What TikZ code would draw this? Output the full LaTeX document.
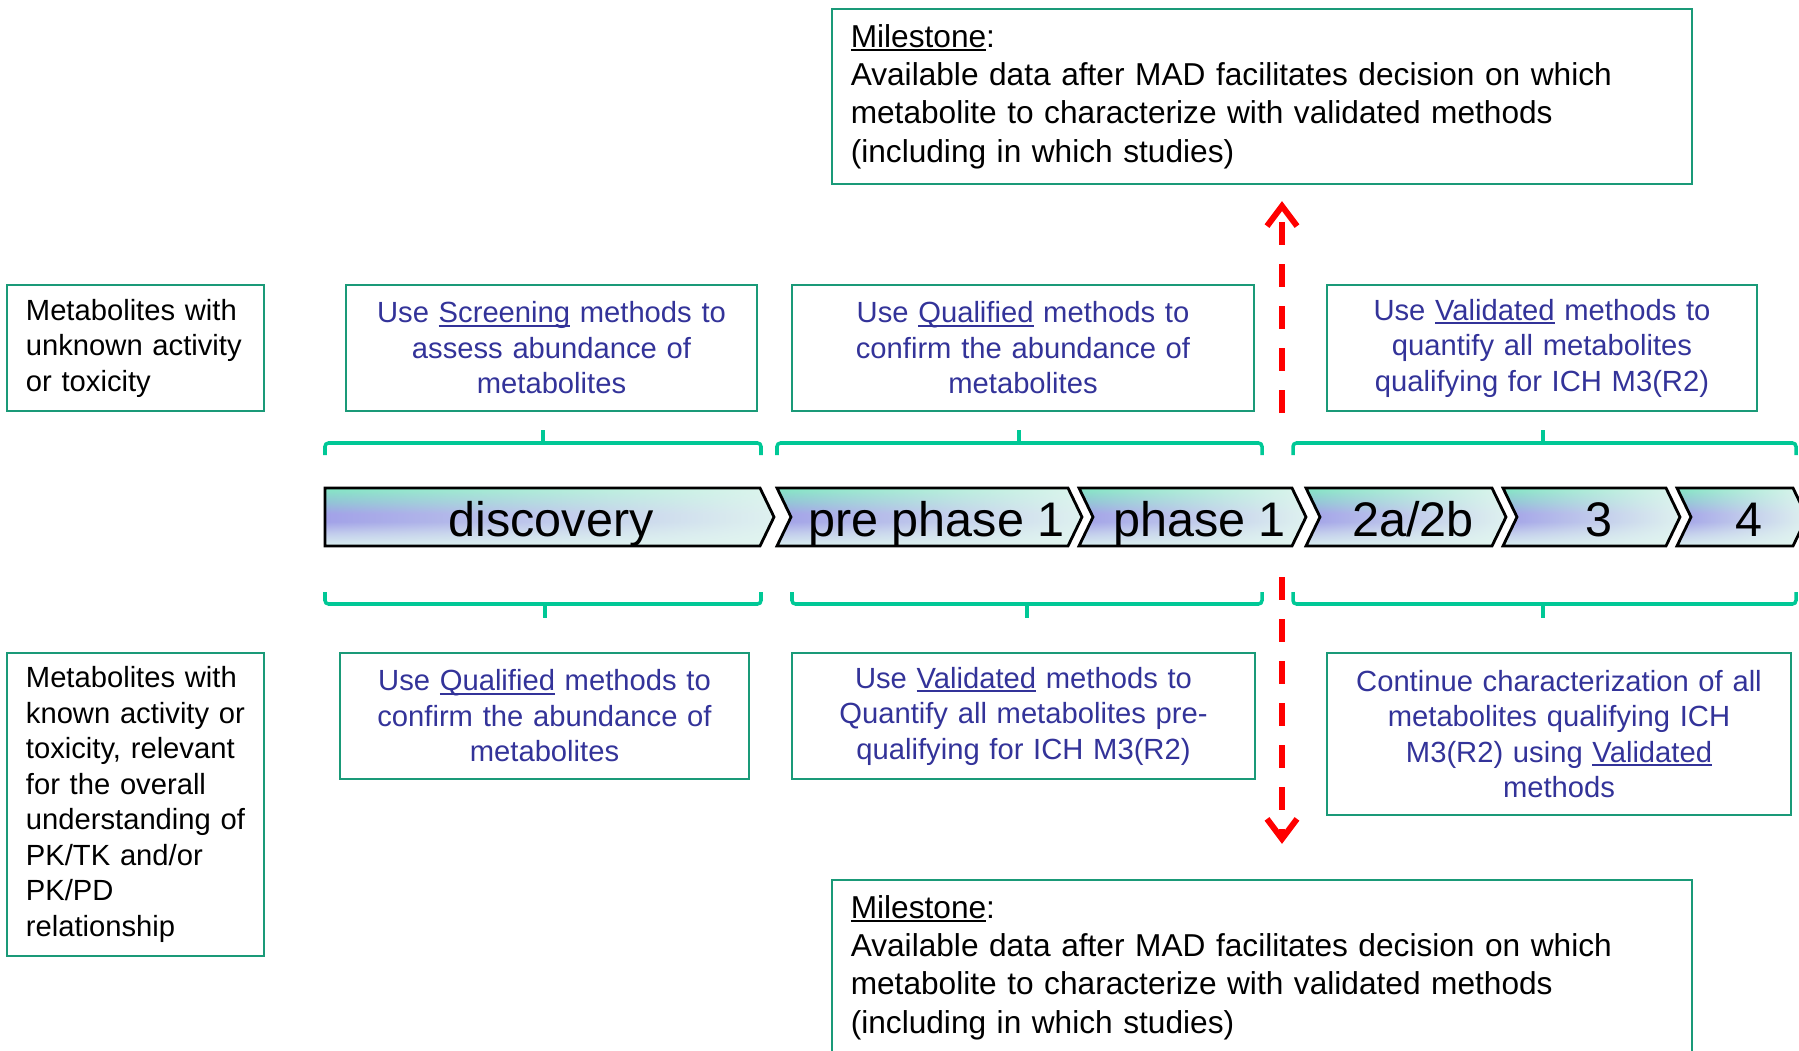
\documentclass[tikz,border=0pt]{standalone}
\usepackage{fontspec}
\setmainfont{Liberation Sans}
\usepackage{tikz}
\usetikzlibrary{arrows.meta}
\usetikzlibrary{fadings}
\definecolor{boxgreen}{HTML}{1A9A78}
\definecolor{bracegreen}{HTML}{00C896}
\definecolor{textblue}{HTML}{333399}
\definecolor{chmint}{HTML}{84E8C4}
\definecolor{chteal}{HTML}{92C4D6}
\definecolor{chlav}{HTML}{A2A2E8}
\definecolor{chpale}{HTML}{C2CCEC}
\definecolor{chlight}{HTML}{DAF0F0}
\definecolor{chfade}{HTML}{E2F6F0}
\pgfdeclareverticalshading{phaseshade}{100bp}{color(0bp)=(chlight); color(25bp)=(chlight); color(36bp)=(chpale); color(46bp)=(chlav); color(53bp)=(chlav); color(63bp)=(chteal); color(75bp)=(chmint); color(100bp)=(chmint)}
\tikzfading[name=faderight, left color=transparent!100, middle color=transparent!75, right color=transparent!5]
\newcommand{\undl}[1]{\setbox0\hbox{#1}\rlap{\rule[-1.1pt]{\wd0}{0.45pt}}#1}
\tikzset{
  stagebox/.style={draw=boxgreen, line width=0.6pt, inner sep=0pt, align=center, text=textblue, font=\fontsize{8.3}{10.1}\selectfont},
  notebox/.style={draw=boxgreen, line width=0.6pt, inner xsep=0.19cm, inner ysep=0pt, align=left, font=\fontsize{8.3}{10.1}\selectfont},
  milebox/.style={notebox, font=\fontsize{9}{10.9}\selectfont, text width=8.22cm, minimum height=1.75cm},
  phase/.style={preaction={shading=phaseshade, shade}, preaction={fill=chfade, path fading=faderight}, draw=black, line width=0.8pt},
  phaselabel/.style={anchor=base, font=\fontsize{13.8}{16}\selectfont},
  bracket/.style={bracegreen, line width=1pt, rounded corners=1pt},
  milearrow/.style={red, line width=1.7pt, dash pattern=on 0.23cm off 0.19cm, ->, >={Straight Barb[length=0.2cm, width=0.3cm]}}
}

\begin{document}
\begin{tikzpicture}[x=0.01cm, y=-0.01cm]
\useasboundingbox (0,0) rectangle (1799,1051);

% left column
\node[notebox, text width=2.19cm, minimum height=1.26cm] (unknown) at (135.5,348) {Metabolites with\\unknown activity\\or toxicity};
\node[notebox, text width=2.19cm, minimum height=3.03cm] (known) at (135.5,804.5) {Metabolites with\\known activity or\\toxicity, relevant\\for the overall\\understanding of\\PK/TK and/or\\PK/PD\\relationship};

% top row
\node[stagebox, text width=4.11cm, minimum height=1.26cm] (screen) at (551.5,348) {Use \undl{Screening} methods to\\assess abundance of\\metabolites};
\node[stagebox, text width=4.62cm, minimum height=1.26cm] (qualtop) at (1023,348) {Use \undl{Qualified} methods to\\confirm the abundance of\\metabolites};
\node[stagebox, text width=4.30cm, minimum height=1.26cm] (validtop) at (1542,348) {Use \undl{Validated} methods to\\quantify all metabolites\\qualifying for ICH M3(R2)};

% bottom row
\node[stagebox, text width=4.09cm, minimum height=1.26cm] (qualbot) at (544.5,716) {Use \undl{Qualified} methods to\\confirm the abundance of\\metabolites};
\node[stagebox, text width=4.63cm, minimum height=1.26cm] (validbot) at (1023.5,716) {Use \undl{Validated} methods to\\Quantify all metabolites pre-\\qualifying for ICH M3(R2)};
\node[stagebox, text width=4.64cm, minimum height=1.62cm] (continue) at (1559,734) {Continue characterization of all\\metabolites qualifying ICH\\M3(R2) using \undl{Validated}\\methods};

% milestones
\node[milebox] (mtop) at (1262,96.5) {\undl{Milestone}:\\Available data after MAD facilitates decision on which\\metabolite to characterize with validated methods\\(including in which studies)};
\node[milebox] (mbot) at (1262,967.5) {\undl{Milestone}:\\Available data after MAD facilitates decision on which\\metabolite to characterize with validated methods\\(including in which studies)};

% phases
\draw[phase] (325,488) -- (760,488) -- (774,517) -- (760,546) -- (325,546) -- cycle;
\node[phaselabel] (disc) at (551,536) {discovery};
\foreach \l/\r/\txt/\nm in {777/1068/{pre phase 1}/pre, 1079/1292/{phase 1}/one, 1306/1492/{2a/2b}/two, 1503/1666/3/three, 1677/1793/4/four} {
  \draw[phase] (\l,488) -- (\r,488) -- (\r+14,517) -- (\r,546) -- (\l,546) -- (\l+14,517) -- cycle;
  \node[phaselabel] (\nm) at ({(\l+\r)/2+14},536) {\txt};
}

% brackets
\foreach \a/\b/\c in {325/761/543, 777/1262/1019, 1293/1796/1543} {
  \draw[bracket] (\a,455) -- (\a,443) -- (\b,443) -- (\b,455);
  \draw[bracket] (\c,443) -- (\c,430);
}
\foreach \a/\b/\c in {325/761/545, 792/1262/1027, 1293/1796/1543} {
  \draw[bracket] (\a,592) -- (\a,604) -- (\b,604) -- (\b,592);
  \draw[bracket] (\c,604) -- (\c,618);
}

% milestone arrows
\coordinate (upfrom) at (1282,413);
\coordinate (downfrom) at (1282,577);
\draw[milearrow, shorten >=0.16cm] (upfrom) -- (upfrom |- mtop.south);
\draw[milearrow, shorten >=0.35cm] (downfrom) -- (downfrom |- mbot.north);
\end{tikzpicture}
\end{document}
